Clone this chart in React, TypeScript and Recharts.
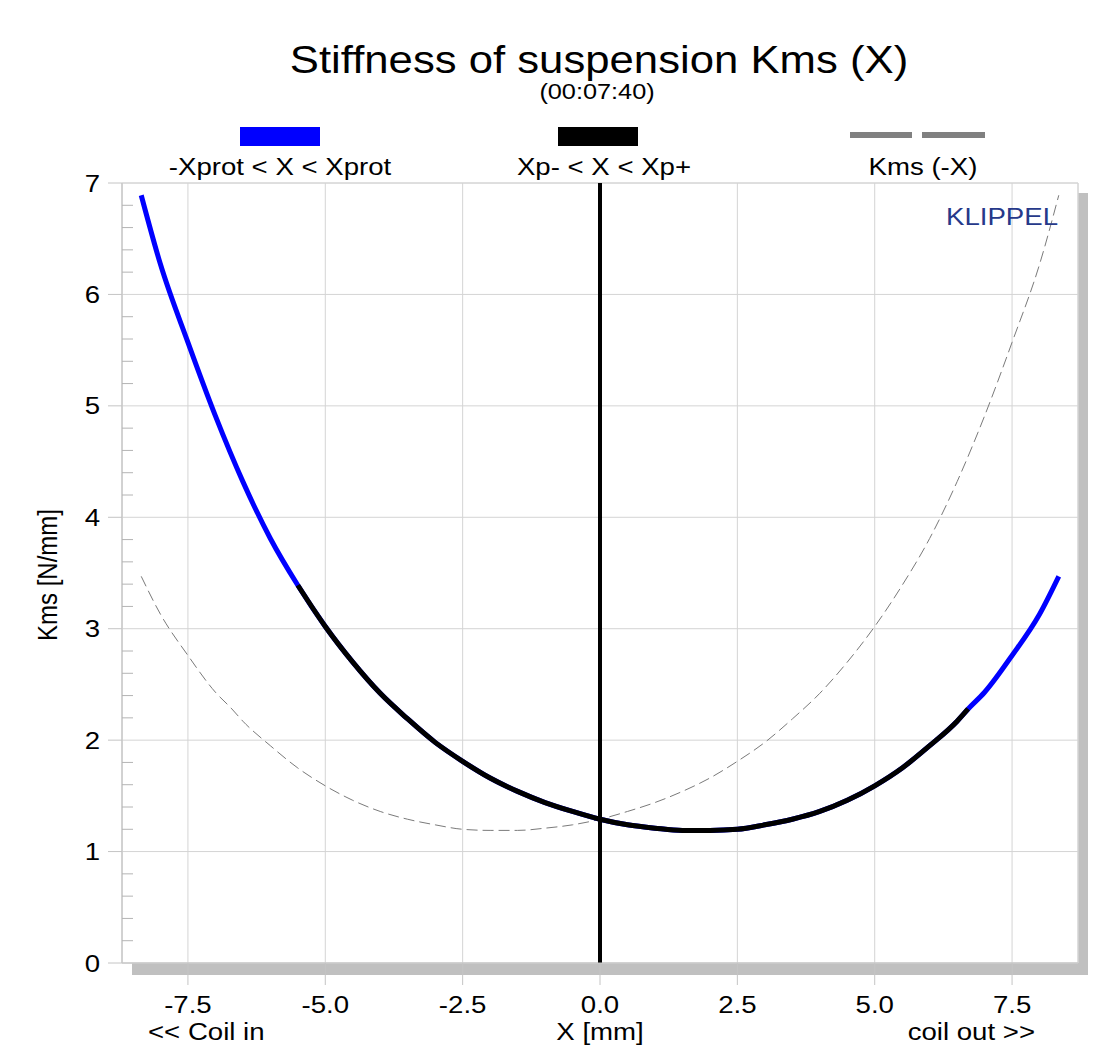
import React from "react";
import {
  CartesianGrid,
  Line,
  LineChart,
  ReferenceArea,
  ReferenceLine,
  XAxis,
  YAxis,
} from "recharts";

// Kms(X), x in mm, Kms in N/mm
const X_POS = [
  -8.35, -8, -7.5, -7, -6.5, -6, -5.5, -5, -4.5, -4, -3.5, -3, -2.5, -2, -1.5, -1, -0.5,
  0, 0.5, 1, 1.5, 2, 2.5, 3, 3.5, 4, 4.5, 5, 5.5, 6, 6.5, 6.7, 7, 7.5, 8, 8.35,
];
const KMS = [
  6.89, 6.27, 5.57, 4.91, 4.32, 3.81, 3.39, 3.02, 2.7, 2.42, 2.19, 1.98, 1.81, 1.66, 1.54, 1.44, 1.36,
  1.29, 1.24, 1.21, 1.19, 1.19, 1.2, 1.24, 1.29, 1.36, 1.46, 1.59, 1.75, 1.95, 2.17, 2.28, 2.43, 2.76, 3.13, 3.47,
];

// Xp- / Xp+ limits (black part of the curve)
const XP_MINUS = -5.5;
const XP_PLUS = 6.7;

const X_MIN = -8.7;
const X_MAX = 8.7;
const Y_MIN = 0;
const Y_MAX = 7;

const X_TICKS = [-7.5, -5, -2.5, 0, 2.5, 5, 7.5];
const X_MINOR_TICKS = [
  -8.5, -8, -7, -6.5, -6, -5.5, -4.5, -4, -3.5, -3, -2, -1.5, -1, -0.5,
  0.5, 1, 1.5, 2, 3, 3.5, 4, 4.5, 5.5, 6, 6.5, 7, 8, 8.5,
];
const Y_TICKS = [0, 1, 2, 3, 4, 5, 6, 7];
const Y_MINOR_TICKS = [
  0.2, 0.4, 0.6, 0.8, 1.2, 1.4, 1.6, 1.8, 2.2, 2.4, 2.6, 2.8, 3.2, 3.4, 3.6, 3.8,
  4.2, 4.4, 4.6, 4.8, 5.2, 5.4, 5.6, 5.8, 6.2, 6.4, 6.6, 6.8,
];

const kmsRows = X_POS.map((x, i) => ({ x, kms: KMS[i] }));
const coreRows = kmsRows.filter((r) => r.x >= XP_MINUS && r.x <= XP_PLUS);
const mirrorRows = kmsRows.map((r) => ({ x: -r.x, kms: r.kms })).reverse();

const FONT = '"Liberation Sans", Arial, sans-serif';
const STRETCH = 1.15; // the source picture is a bit wide
const GRID = "#d4d4d4";

function XTick({ x, y, payload }: any) {
  return (
    <g transform={`translate(${x},${y}) scale(${STRETCH},1)`}>
      <text textAnchor="middle" dy="0.71em" fontSize={24} fontFamily={FONT} fill="#000">
        {payload.value.toFixed(1)}
      </text>
    </g>
  );
}

function YTick({ x, y, payload }: any) {
  return (
    <g transform={`translate(${x},${y}) scale(${STRETCH},1)`}>
      <text textAnchor="end" dy="0.36em" fontSize={24} fontFamily={FONT} fill="#000">
        {payload.value}
      </text>
    </g>
  );
}

function Txt({ x, y, size, anchor = "middle", fill = "#000", children }: any) {
  return (
    <g transform={`translate(${x},${y}) scale(${STRETCH},1)`}>
      <text textAnchor={anchor} fontSize={size} fontFamily={FONT} fill={fill}>
        {children}
      </text>
    </g>
  );
}

export default function App() {
  return (
    <div style={{ position: "absolute", left: 0, top: 0, width: 1112, height: 1057, background: "#fff" }}>
      {/* drop shadow of the plot frame */}
      <svg width={1112} height={1057} style={{ position: "absolute", left: 0, top: 0 }}>
        <rect x={132} y={963} width={956} height={12} fill="#c0c0c0" />
        <rect x={1078} y={193} width={10} height={782} fill="#c0c0c0" />
      </svg>

      <div style={{ position: "absolute", left: 0, top: 0 }}>
        <LineChart width={1112} height={1057} margin={{ top: 183, right: 34, bottom: 34, left: 42 }}>
          <CartesianGrid stroke={GRID} strokeWidth={1} />
          <XAxis
            type="number"
            dataKey="x"
            domain={[X_MIN, X_MAX]}
            ticks={X_TICKS}
            allowDataOverflow
            height={60}
            tickSize={22}
            tickMargin={11}
            stroke="#c4c4c4"
            tick={<XTick />}
          />
          <XAxis
            xAxisId="minor"
            type="number"
            domain={[X_MIN, X_MAX]}
            ticks={X_MINOR_TICKS}
            allowDataOverflow
            mirror
            axisLine={false}
            tickSize={15}
            tickLine={{ stroke: "#b4b4b4" }}
            tickFormatter={() => ""}
          />
          <YAxis
            type="number"
            domain={[Y_MIN, Y_MAX]}
            ticks={Y_TICKS}
            allowDataOverflow
            width={80}
            tickSize={14}
            tickMargin={8}
            stroke="#c4c4c4"
            tick={<YTick />}
          />
          <YAxis
            yAxisId="minor"
            type="number"
            domain={[Y_MIN, Y_MAX]}
            ticks={Y_MINOR_TICKS}
            allowDataOverflow
            mirror
            axisLine={false}
            tickSize={11}
            tickLine={{ stroke: "#b4b4b4" }}
            tickFormatter={() => ""}
          />
          <ReferenceArea x1={X_MIN} x2={X_MAX} y1={Y_MIN} y2={Y_MAX} fill="none" stroke={GRID} />
          <Line
            data={mirrorRows}
            dataKey="kms"
            type="monotone"
            stroke="#7a7a7a"
            strokeWidth={1}
            strokeDasharray="11 5"
            dot={false}
            isAnimationActive={false}
          />
          <Line
            data={kmsRows}
            dataKey="kms"
            type="monotone"
            stroke="#0000ff"
            strokeWidth={5}
            dot={false}
            isAnimationActive={false}
          />
          <Line
            data={coreRows}
            dataKey="kms"
            type="monotone"
            stroke="#000"
            strokeWidth={5}
            dot={false}
            isAnimationActive={false}
          />
          <ReferenceLine x={0} stroke="#000" strokeWidth={4} />
        </LineChart>
      </div>

      {/* titles, legend and axis captions */}
      <svg
        width={1112}
        height={1057}
        style={{ position: "absolute", left: 0, top: 0, pointerEvents: "none" }}
      >
        <Txt x={599} y={73} size={38}>Stiffness of suspension Kms (X)</Txt>
        <Txt x={597} y={99} size={22}>(00:07:40)</Txt>

        <rect x={240} y={127} width={80} height={19} fill="#0000ff" />
        <Txt x={280} y={175} size={24}>-Xprot &lt; X &lt; Xprot</Txt>
        <rect x={558} y={127} width={80} height={19} fill="#000" />
        <Txt x={604} y={175} size={24}>Xp- &lt; X &lt; Xp+</Txt>
        <rect x={850} y={132} width={62} height={6} fill="#808080" />
        <rect x={922} y={132} width={63} height={6} fill="#808080" />
        <Txt x={923} y={175} size={24}>Kms (-X)</Txt>

        <Txt x={1058} y={225} size={24} anchor="end" fill="#26398a">KLIPPEL</Txt>

        <g transform={`translate(57,575) scale(${STRETCH},1) rotate(-90)`}>
          <text textAnchor="middle" fontSize={24} fontFamily={FONT} fill="#000">
            Kms [N/mm]
          </text>
        </g>

        <Txt x={148} y={1040} size={24} anchor="start">&lt;&lt; Coil in</Txt>
        <Txt x={600} y={1040} size={24}>X [mm]</Txt>
        <Txt x={1035} y={1040} size={24} anchor="end">coil out &gt;&gt;</Txt>
      </svg>
    </div>
  );
}
